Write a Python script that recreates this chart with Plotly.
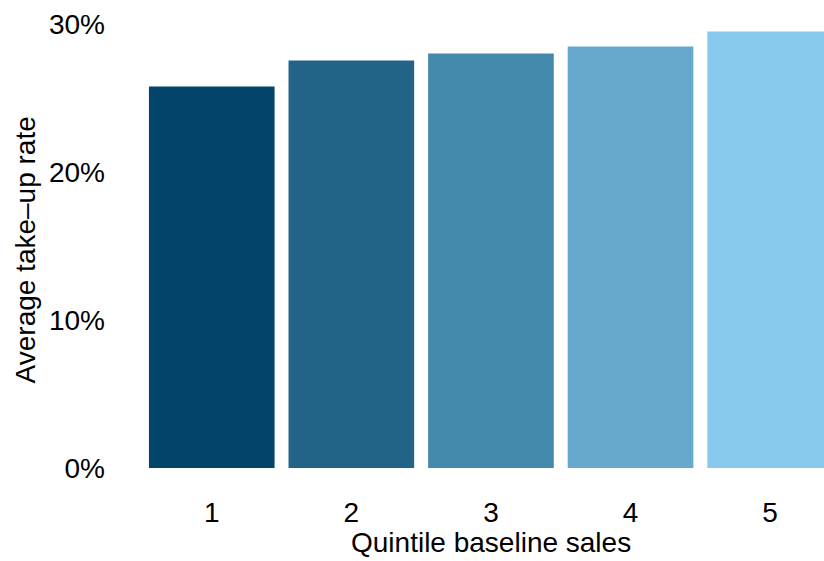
import plotly.graph_objects as go

categories = ["1", "2", "3", "4", "5"]
takeup_rate = [0.2578, 0.2753, 0.2801, 0.2848, 0.2949]
bar_colors = ["#03446A", "#216487", "#4389AB", "#67A9CC", "#88CAED"]
y_tickvals = [0.0, 0.1, 0.2, 0.3]
y_ticktext = ["0%", "10%", "20%", "30%"]
x_title = "Quintile baseline sales"
y_title = "Average take\u2013up rate"

FONT = "Liberation Sans, Arial, Helvetica, sans-serif"

fig = go.Figure(
    go.Bar(
        x=categories,
        y=takeup_rate,
        marker=dict(color=bar_colors, line=dict(width=0)),
        width=0.9,
        showlegend=False,
    )
)

fig.update_layout(
    width=824,
    height=561,
    margin=dict(l=128, r=0, t=24, b=92.5),
    paper_bgcolor="white",
    plot_bgcolor="white",
    font=dict(family=FONT, size=28, color="black"),
    xaxis=dict(
        type="category",
        range=[-0.6, 4.386],
        showgrid=False,
        zeroline=False,
        showline=False,
        ticks="",
        ticklabelstandoff=25,
        tickfont=dict(size=28, color="black"),
    ),
    yaxis=dict(
        range=[0, 0.30],
        tickvals=y_tickvals,
        ticktext=y_ticktext,
        showgrid=False,
        zeroline=False,
        showline=False,
        ticks="",
        ticklabelstandoff=22,
        tickfont=dict(size=28, color="black"),
    ),
    annotations=[
        dict(
            text=x_title, xref="x", yref="paper", x=2, y=0,
            yshift=-74, xanchor="center", yanchor="middle",
            showarrow=False, font=dict(size=28, color="black"),
        ),
        dict(
            text=y_title, xref="paper", yref="paper", x=0, y=0.49,
            xshift=-103, xanchor="center", yanchor="middle", textangle=-90,
            showarrow=False, font=dict(size=28, color="black"),
        ),
    ],
)

fig.write_html(
    "out.html",
    config={"displayModeBar": False},
    post_script="document.body.style.margin='0';document.body.style.overflow='hidden';",
)
